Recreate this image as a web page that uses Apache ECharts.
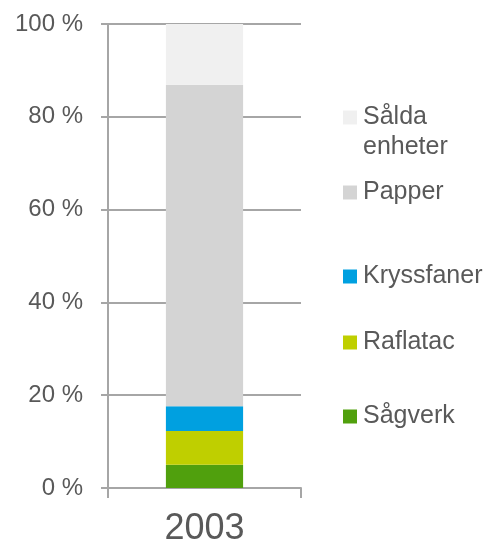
<!DOCTYPE html>
<html>
<head>
<meta charset="utf-8">
<script src="https://cdn.jsdelivr.net/npm/echarts@6/dist/echarts.min.js"></script>
<style>html,body{margin:0;padding:0;background:#fff}#c{width:493px;height:547px}</style>
</head>
<body>
<div id="c"></div>
<script>
var categories = ['2003'];
var seriesNames = ['Sågverk', 'Raflatac', 'Kryssfaner', 'Papper', 'Sålda enheter'];
var sagverk = [5.0];
var raflatac = [7.3];
var kryssfaner = [5.3];
var papper = [69.3];
var saldaEnheter = [13.1];
var yTicks = [0, 20, 40, 60, 80, 100];

var colors = ['#50A00D', '#BFCF00', '#00A0E0', '#D4D4D4', '#F0F0F0'];
var values = [sagverk, raflatac, kryssfaner, papper, saldaEnheter];
var textColor = '#595959';
var lineColor = '#A6A6A6';
var font = 'Liberation Sans, Arial, sans-serif';

var chart = echarts.init(document.getElementById('c'));

var series = seriesNames.map(function (n, i) {
  return {
    name: n, type: 'bar', stack: 'total', data: values[i], barWidth: '40%',
    itemStyle: { color: colors[i] }
  };
});

var legendTops = { 'Sålda enheter': 105, 'Papper': 180, 'Kryssfaner': 264, 'Raflatac': 330, 'Sågverk': 404 };
var legends = seriesNames.map(function (n) {
  return {
    data: [{ name: n, icon: 'rect' }],
    left: 343, top: legendTops[n],
    itemWidth: 14, itemHeight: 14, itemGap: 0, padding: 0,
    formatter: n === 'Sålda enheter' ? 'Sålda' : '{name}',
    selectedMode: false,
    textStyle: { color: textColor, fontSize: 25, fontFamily: font, padding: [0, 0, 0, 1] }
  };
});

chart.setOption({
  animation: false,
  color: colors,
  legend: legends,
  graphic: [{
    type: 'text', left: 363, top: 135,
    style: { text: 'enheter', fill: textColor, font: '25px ' + font }
  }],
  grid: { left: 108, right: 192, top: 24, bottom: 58, containLabel: false },
  xAxis: {
    type: 'category', data: categories,
    axisLine: { show: true, lineStyle: { color: lineColor, width: 2 } },
    axisTick: { show: true, length: 10, lineStyle: { color: lineColor, width: 2 } },
    axisLabel: { color: textColor, fontSize: 36, fontFamily: font, margin: 23 }
  },
  yAxis: {
    type: 'value', min: yTicks[0], max: yTicks[yTicks.length - 1], interval: 20,
    axisLine: { show: true, lineStyle: { color: lineColor, width: 2 } },
    axisTick: { show: true, length: 7, lineStyle: { color: lineColor, width: 2 } },
    splitLine: { show: true, lineStyle: { color: lineColor, width: 2 } },
    axisLabel: { color: textColor, fontSize: 24, fontFamily: font, margin: 25, formatter: '{value} %' }
  },
  series: series
});
</script>
</body>
</html>
